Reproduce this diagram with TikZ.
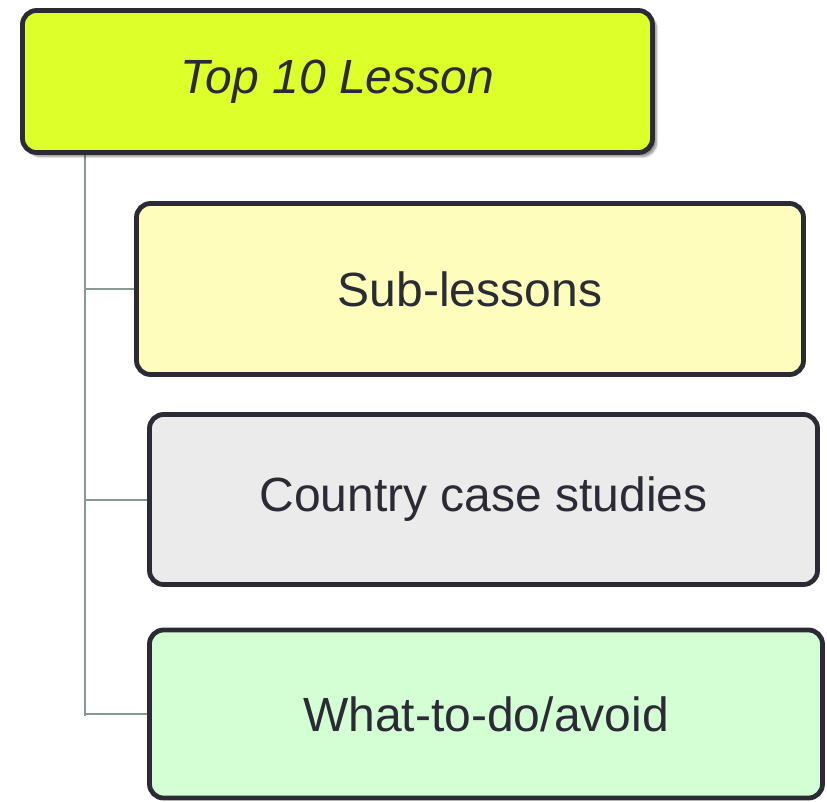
\documentclass[tikz,border=0pt]{standalone}
\usepackage{fontspec}
\setmainfont{Liberation Sans}
\usetikzlibrary{shadows.blur}
\definecolor{edge}{HTML}{2B2B36}
\definecolor{topfill}{HTML}{DDFF2A}
\definecolor{subfill}{HTML}{FFFDBB}
\definecolor{casefill}{HTML}{EBEBEB}
\definecolor{dofill}{HTML}{D4FFD4}
\definecolor{conncol}{HTML}{8A9896}
\tikzset{
  boxnode/.style={draw=edge, line width=4.8pt, rounded corners=14pt, inner sep=0pt,
    text=edge, font=\fontsize{48}{52}\selectfont},
  conn/.style={draw=conncol, line width=2pt},
}
\begin{document}
\begin{tikzpicture}[x=1pt,y=1pt]
\useasboundingbox (0,0) rectangle (827,-801);
\coordinate (trunk) at (85,0);
\draw[conn] (85,-150) -- (85,-716);
\node[boxnode, fill=topfill, minimum width=630pt, minimum height=142pt,
  blur shadow={shadow xshift=4pt, shadow yshift=-4pt, shadow blur steps=6, shadow opacity=45}]
  (top) at (337.5,-81.5) {\itshape Top 10 Lesson};
\node[boxnode, fill=subfill, minimum width=667pt, minimum height=171pt] (sub) at (470,-289) {Sub-lessons};
\node[boxnode, fill=casefill, minimum width=668pt, minimum height=170pt] (case) at (483.5,-499.5) {Country case studies};
\node[boxnode, fill=dofill, minimum width=673pt, minimum height=168pt] (todo) at (486,-714) {What-to-do/avoid};
\draw[conn] (trunk |- sub.west) -- (sub.west);
\draw[conn] (trunk |- case.west) -- (case.west);
\draw[conn] (trunk |- todo.west) -- (todo.west);
\end{tikzpicture}
\end{document}
